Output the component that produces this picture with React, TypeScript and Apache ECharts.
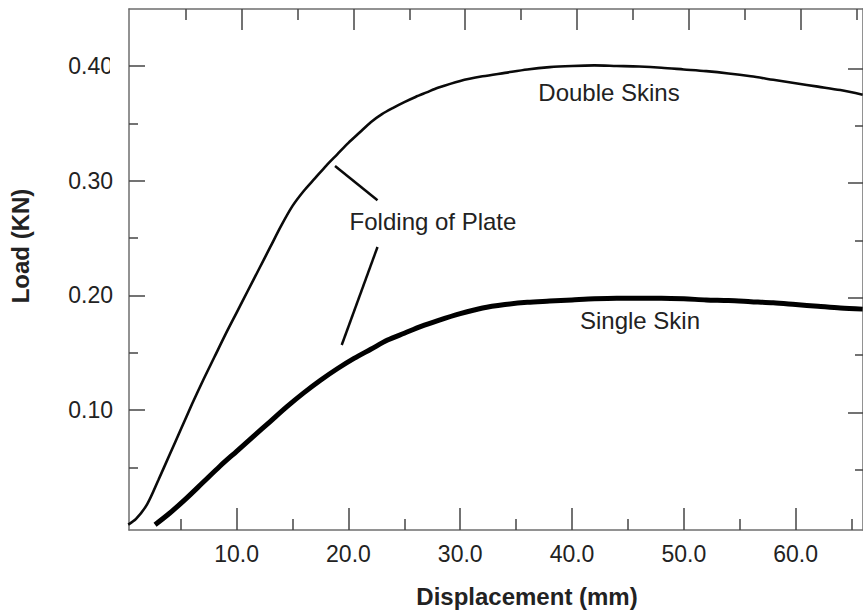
import React, { useEffect, useRef } from "react";
import * as echarts from "echarts";

// ---- data ----
const doubleX = [0.3, 1.0, 2.0, 3.0, 4.0, 5.0, 6.0, 7.0, 8.0, 9.0, 10.0, 11.0, 12.0, 13.0, 14.0, 15.0, 16.0, 17.0, 18.0, 19.0, 20.0, 21.0, 22.0, 23.0, 24.0, 25.0, 26.0, 27.0, 28.0, 30.0, 32.0, 34.0, 36.0, 38.0, 40.0, 42.0, 44.0, 46.0, 48.0, 50.0, 52.0, 54.0, 56.0, 58.0, 60.0, 62.0, 64.0, 66.0];
const doubleY = [0.0, 0.005, 0.018, 0.039, 0.061, 0.083, 0.105, 0.126, 0.146, 0.166, 0.185, 0.204, 0.223, 0.242, 0.261, 0.278, 0.291, 0.302, 0.313, 0.323, 0.333, 0.342, 0.351, 0.358, 0.3635, 0.3685, 0.373, 0.377, 0.381, 0.387, 0.391, 0.394, 0.397, 0.399, 0.4, 0.4005, 0.4, 0.3995, 0.3985, 0.397, 0.3955, 0.3935, 0.391, 0.388, 0.385, 0.382, 0.379, 0.375];

const singleX = [2.7, 4.0, 5.5, 7.0, 8.5, 10.0, 11.5, 13.0, 14.5, 16.0, 17.5, 19.0, 20.5, 22.0, 23.5, 25.0, 26.5, 28.0, 30.0, 32.0, 34.0, 36.0, 38.0, 40.0, 42.0, 44.0, 46.0, 48.0, 50.0, 52.0, 54.0, 56.0, 58.0, 60.0, 62.0, 64.0, 66.0];
const singleY = [0.0, 0.01, 0.023, 0.037, 0.051, 0.064, 0.077, 0.09, 0.103, 0.115, 0.126, 0.136, 0.145, 0.153, 0.161, 0.167, 0.173, 0.178, 0.184, 0.189, 0.192, 0.194, 0.195, 0.196, 0.197, 0.1975, 0.1975, 0.1975, 0.197, 0.196, 0.1955, 0.1945, 0.1935, 0.192, 0.1905, 0.189, 0.188];

const xMajorTicks = [10, 20, 30, 40, 50, 60];
const xMinorTicks = [5, 15, 25, 35, 45, 55, 65];
const yMajorTicks = [0.1, 0.2, 0.3, 0.4];
const yMinorTicks = [0.05, 0.15, 0.25, 0.35];

// annotation pointer lines ("Folding of Plate"), in data coordinates
const pointerA = [[18.8, 0.3128], [22.6, 0.283]];
const pointerB = [[22.6, 0.2422], [19.4, 0.1567]];

const X_MIN = 0.37;
const X_MAX = 66.03;
const Y_MIN = -0.0046;
const Y_MAX = 0.4497;

const FONT = "'Liberation Sans', Arial, Helvetica, sans-serif";

export default function App() {
  const ref = useRef<HTMLDivElement>(null);

  useEffect(() => {
    if (!ref.current) return;
    const chart = echarts.init(ref.current, null, { renderer: "svg" });

    const axisLineStyle = { color: "#6e6e6e", width: 1.5 };
    const tickStyle = { color: "#444", width: 1.5 };

    const xAxisBase = (extra: any) => ({
      type: "value",
      min: X_MIN,
      max: X_MAX,
      splitLine: { show: false },
      axisLine: { show: false, onZero: false },
      axisLabel: { show: false },
      ...extra,
    });
    const yAxisBase = (extra: any) => ({
      type: "value",
      min: Y_MIN,
      max: Y_MAX,
      splitLine: { show: false },
      axisLine: { show: false, onZero: false },
      axisLabel: { show: false },
      ...extra,
    });

    chart.setOption({
      animation: false,
      backgroundColor: "#ffffff",
      textStyle: { fontFamily: FONT },
      grid: { left: 129, top: 9, width: 741, height: 521, containLabel: false },
      xAxis: [
        xAxisBase({
          position: "bottom",
          axisLine: { show: true, onZero: false, lineStyle: axisLineStyle },
          axisTick: { show: true, inside: true, length: 22, customValues: xMajorTicks, lineStyle: tickStyle },
          axisLabel: {
            show: true,
            customValues: xMajorTicks,
            formatter: (v: number) => v.toFixed(1),
            fontSize: 23,
            color: "#222",
            margin: 12,
            fontFamily: FONT,
          },
        }),
        xAxisBase({
          position: "bottom",
          axisTick: { show: true, inside: true, length: 11, customValues: xMinorTicks, lineStyle: tickStyle },
        }),
        xAxisBase({
          position: "top",
          min: X_MIN - 0.44,
          max: X_MAX - 0.44,
          axisLine: { show: true, onZero: false, lineStyle: axisLineStyle },
          axisTick: { show: true, inside: true, length: 21, customValues: xMajorTicks, lineStyle: tickStyle },
        }),
        xAxisBase({
          position: "top",
          min: X_MIN - 0.44,
          max: X_MAX - 0.44,
          axisTick: { show: true, inside: true, length: 11, customValues: xMinorTicks, lineStyle: tickStyle },
        }),
      ],
      yAxis: [
        yAxisBase({
          position: "left",
          axisLine: { show: true, onZero: false, lineStyle: axisLineStyle },
          axisTick: { show: true, inside: true, length: 16, customValues: yMajorTicks, lineStyle: tickStyle },
          axisLabel: {
            show: true,
            customValues: yMajorTicks,
            formatter: (v: number) => v.toFixed(2),
            fontSize: 23,
            color: "#222",
            margin: 16,
            fontFamily: FONT,
          },
        }),
        yAxisBase({
          position: "left",
          axisTick: { show: true, inside: true, length: 9, customValues: yMinorTicks, lineStyle: tickStyle },
        }),
        yAxisBase({
          position: "right",
          min: Y_MIN + 0.0022,
          max: Y_MAX + 0.0022,
          axisLine: { show: true, onZero: false, lineStyle: axisLineStyle },
          axisTick: { show: true, inside: true, length: 15, customValues: yMajorTicks, lineStyle: tickStyle },
        }),
        yAxisBase({
          position: "right",
          min: Y_MIN + 0.0022,
          max: Y_MAX + 0.0022,
          axisTick: { show: true, inside: true, length: 8, customValues: yMinorTicks, lineStyle: tickStyle },
        }),
      ],
      series: [
        {
          name: "Double Skins",
          type: "line",
          xAxisIndex: 0,
          yAxisIndex: 0,
          data: doubleX.map((x, i) => [x, doubleY[i]]),
          showSymbol: false,
          smooth: 0.3,
          lineStyle: { color: "#0a0a0a", width: 2.6 },
          markLine: {
            silent: true,
            symbol: ["none", "none"],
            label: { show: false },
            lineStyle: { color: "#0a0a0a", width: 2.5, type: "solid" },
            data: [
              [{ coord: pointerA[0] }, { coord: pointerA[1] }],
              [{ coord: pointerB[0] }, { coord: pointerB[1] }],
            ],
          },
        },
        {
          name: "Single Skin",
          type: "line",
          xAxisIndex: 0,
          yAxisIndex: 0,
          data: singleX.map((x, i) => [x, singleY[i]]),
          showSymbol: false,
          smooth: 0.3,
          lineStyle: { color: "#000", width: 5 },
        },
      ],
      graphic: [
        {
          type: "rect",
          z: 100,
          shape: { x: 110, y: 50, width: 15, height: 32 },
          style: { fill: "#ffffff" },
        },
        {
          type: "text",
          x: 609,
          y: 92,
          style: { text: "Double Skins", font: `24px ${FONT}`, fill: "#222", align: "center", verticalAlign: "middle" },
        },
        {
          type: "text",
          x: 640,
          y: 320,
          style: { text: "Single Skin", font: `24px ${FONT}`, fill: "#222", align: "center", verticalAlign: "middle" },
        },
        {
          type: "text",
          x: 433,
          y: 221,
          style: { text: "Folding of Plate", font: `24px ${FONT}`, fill: "#222", align: "center", verticalAlign: "middle" },
        },
        {
          type: "text",
          x: 527,
          y: 596,
          style: { text: "Displacement (mm)", font: `bold 24px ${FONT}`, fill: "#222", align: "center", verticalAlign: "middle" },
        },
        {
          type: "text",
          x: 20,
          y: 246,
          rotation: Math.PI / 2,
          style: { text: "Load (KN)", font: `bold 24px ${FONT}`, fill: "#222", align: "center", verticalAlign: "middle" },
        },
      ],
    });

    return () => chart.dispose();
  }, []);

  return <div ref={ref} style={{ width: 863, height: 610, position: "absolute", left: 0, top: 0 }} />;
}
